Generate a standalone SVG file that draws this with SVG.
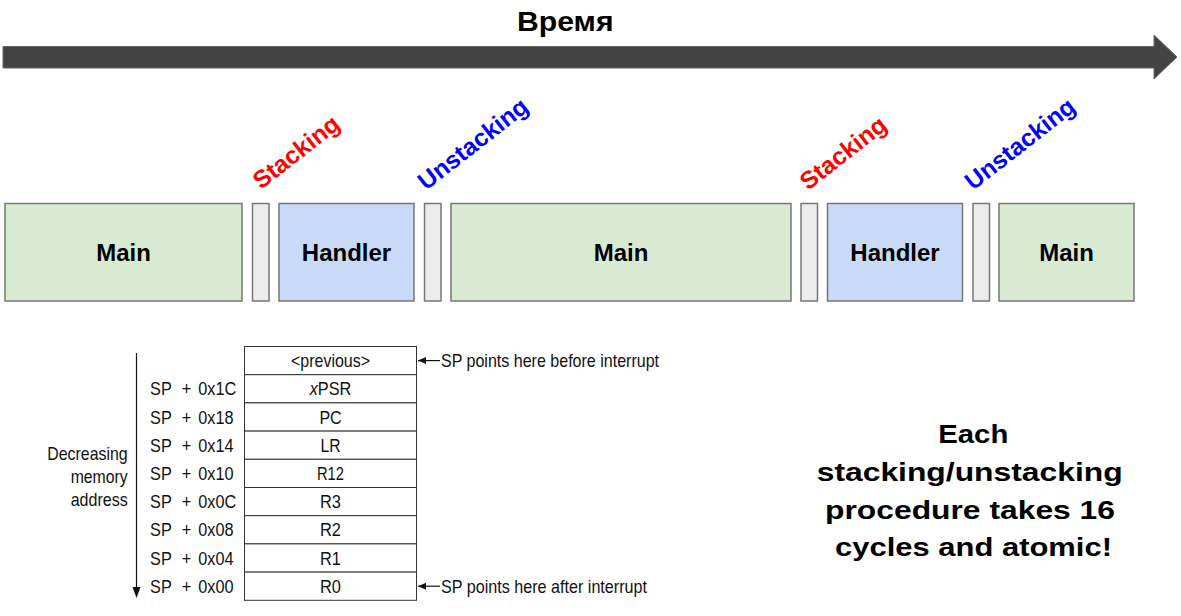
<svg xmlns="http://www.w3.org/2000/svg" width="1181" height="616" viewBox="0 0 1181 616">
<style>
.b{font-family:"Liberation Sans",Arial,sans-serif;font-weight:bold}
.n{font-family:"Liberation Sans",Arial,sans-serif;font-size:18.5px;fill:#111}
.lbl{font-size:24px;fill:#000}
.main{fill:#d9ead3;stroke:#777;stroke-width:1.5}
.hand{fill:#c9daf8;stroke:#777;stroke-width:1.5}
.gap{fill:#ececec;stroke:#777;stroke-width:1.5}
.cell{fill:#fff;stroke:#333;stroke-width:1}
.red{fill:#ff0000;font-size:24.5px}
.blue{fill:#0000ff;font-size:24.5px}
</style>
<defs>
<marker id="ah" markerWidth="10" markerHeight="8" refX="8" refY="4" orient="auto" markerUnits="userSpaceOnUse">
<path d="M0,0.5 L8,4 L0,7.5 Z" fill="#111"/>
</marker>
</defs>
<rect width="1181" height="616" fill="#fff"/>
<g id="timeline">
<polygon points="3,46.5 1154,46.5 1154,35 1177,57 1154,79 1154,68 3,68" fill="#434343" stroke="#666" stroke-width="1"/>
<text class="b" x="517" y="30.5" font-size="27" textLength="96.5" lengthAdjust="spacingAndGlyphs">Время</text>
</g>
<g id="main1"><rect class="main" x="5" y="203.5" width="237" height="97.5"/><text class="b lbl" x="123.5" y="261" text-anchor="middle">Main</text></g>
<g id="stack1"><rect class="gap" x="252.5" y="203.5" width="16.5" height="97.5"/></g>
<g id="handler1"><rect class="hand" x="279" y="203.5" width="135" height="97.5"/><text class="b lbl" x="346.5" y="261" text-anchor="middle">Handler</text></g>
<g id="unstack1"><rect class="gap" x="424.5" y="203.5" width="16.5" height="97.5"/></g>
<g id="main2"><rect class="main" x="451" y="203.5" width="340" height="97.5"/><text class="b lbl" x="621" y="261" text-anchor="middle">Main</text></g>
<g id="stack2"><rect class="gap" x="801" y="203.5" width="16.5" height="97.5"/></g>
<g id="handler2"><rect class="hand" x="827.5" y="203.5" width="135" height="97.5"/><text class="b lbl" x="895" y="261" text-anchor="middle">Handler</text></g>
<g id="unstack2"><rect class="gap" x="973" y="203.5" width="16.5" height="97.5"/></g>
<g id="main3"><rect class="main" x="999" y="203.5" width="135" height="97.5"/><text class="b lbl" x="1066.5" y="261" text-anchor="middle">Main</text></g>
<g id="phase-labels">
<text class="b red" transform="translate(261,190) rotate(-38)">Stacking</text>
<text class="b blue" transform="translate(426,191) rotate(-38)">Unstacking</text>
<text class="b red" transform="translate(808,191) rotate(-38)">Stacking</text>
<text class="b blue" transform="translate(973,191) rotate(-38)">Unstacking</text>
</g>
<g id="stack-frame">
<rect class="cell" x="244.5" y="346.5" width="172" height="28.2"/>
<rect class="cell" x="244.5" y="374.7" width="172" height="28.2"/>
<rect class="cell" x="244.5" y="402.9" width="172" height="28.2"/>
<rect class="cell" x="244.5" y="431.1" width="172" height="28.2"/>
<rect class="cell" x="244.5" y="459.3" width="172" height="28.2"/>
<rect class="cell" x="244.5" y="487.5" width="172" height="28.2"/>
<rect class="cell" x="244.5" y="515.7" width="172" height="28.2"/>
<rect class="cell" x="244.5" y="543.9" width="172" height="28.2"/>
<rect class="cell" x="244.5" y="572.1" width="172" height="28.2"/>
<text class="n" x="291" y="367.2" textLength="79" lengthAdjust="spacingAndGlyphs">&lt;previous&gt;</text>
<text class="n" x="309.7" y="395.4" textLength="41.7" lengthAdjust="spacingAndGlyphs"><tspan font-style="italic">x</tspan>PSR</text>
<text class="n" x="319.4" y="423.6" textLength="22.3" lengthAdjust="spacingAndGlyphs">PC</text>
<text class="n" x="320.5" y="451.8" textLength="20" lengthAdjust="spacingAndGlyphs">LR</text>
<text class="n" x="317" y="480" textLength="27" lengthAdjust="spacingAndGlyphs">R12</text>
<text class="n" x="320" y="508.2" textLength="21" lengthAdjust="spacingAndGlyphs">R3</text>
<text class="n" x="320" y="536.4" textLength="21" lengthAdjust="spacingAndGlyphs">R2</text>
<text class="n" x="320" y="564.6" textLength="21" lengthAdjust="spacingAndGlyphs">R1</text>
<text class="n" x="320" y="592.8" textLength="21" lengthAdjust="spacingAndGlyphs">R0</text>
</g>
<g id="offsets">
<g transform="scale(0.88,1)">
<text class="n" y="395.4"><tspan x="170.5">SP</tspan><tspan x="206.5">+</tspan><tspan x="225.3">0x1C</tspan></text>
<text class="n" y="423.6"><tspan x="170.5">SP</tspan><tspan x="206.5">+</tspan><tspan x="225.3">0x18</tspan></text>
<text class="n" y="451.8"><tspan x="170.5">SP</tspan><tspan x="206.5">+</tspan><tspan x="225.3">0x14</tspan></text>
<text class="n" y="480"><tspan x="170.5">SP</tspan><tspan x="206.5">+</tspan><tspan x="225.3">0x10</tspan></text>
<text class="n" y="508.2"><tspan x="170.5">SP</tspan><tspan x="206.5">+</tspan><tspan x="225.3">0x0C</tspan></text>
<text class="n" y="536.4"><tspan x="170.5">SP</tspan><tspan x="206.5">+</tspan><tspan x="225.3">0x08</tspan></text>
<text class="n" y="564.6"><tspan x="170.5">SP</tspan><tspan x="206.5">+</tspan><tspan x="225.3">0x04</tspan></text>
<text class="n" y="592.8"><tspan x="170.5">SP</tspan><tspan x="206.5">+</tspan><tspan x="225.3">0x00</tspan></text>
</g>
<text class="n" x="47.3" y="459.5" textLength="80.3" lengthAdjust="spacingAndGlyphs">Decreasing</text>
<text class="n" x="70.7" y="482.5" textLength="57" lengthAdjust="spacingAndGlyphs">memory</text>
<text class="n" x="70.7" y="505.5" textLength="57" lengthAdjust="spacingAndGlyphs">address</text>
<text class="n" x="441" y="367.2" textLength="218" lengthAdjust="spacingAndGlyphs">SP points here before interrupt</text>
<text class="n" x="441" y="592.8" textLength="206" lengthAdjust="spacingAndGlyphs">SP points here after interrupt</text>
</g>
<g id="connectors" stroke="#111" stroke-width="1.2" fill="none">
<line x1="136.5" y1="353" x2="136.5" y2="590"/>
<path d="M132.5,587 L140.5,587 L136.5,598 Z" fill="#111" stroke="none"/>
<line x1="440" y1="360.6" x2="418" y2="360.6" marker-end="url(#ah)"/>
<line x1="440" y1="586.2" x2="418" y2="586.2" marker-end="url(#ah)"/>
</g>
<g id="note">
<text class="b" x="938.3" y="443" font-size="26" textLength="70" lengthAdjust="spacingAndGlyphs">Each</text>
<text class="b" x="816.7" y="481" font-size="26" textLength="306" lengthAdjust="spacingAndGlyphs">stacking/unstacking</text>
<text class="b" x="825" y="518.5" font-size="26" textLength="290" lengthAdjust="spacingAndGlyphs">procedure takes 16</text>
<text class="b" x="835" y="556" font-size="26" textLength="277" lengthAdjust="spacingAndGlyphs">cycles and atomic!</text>
</g>
</svg>
